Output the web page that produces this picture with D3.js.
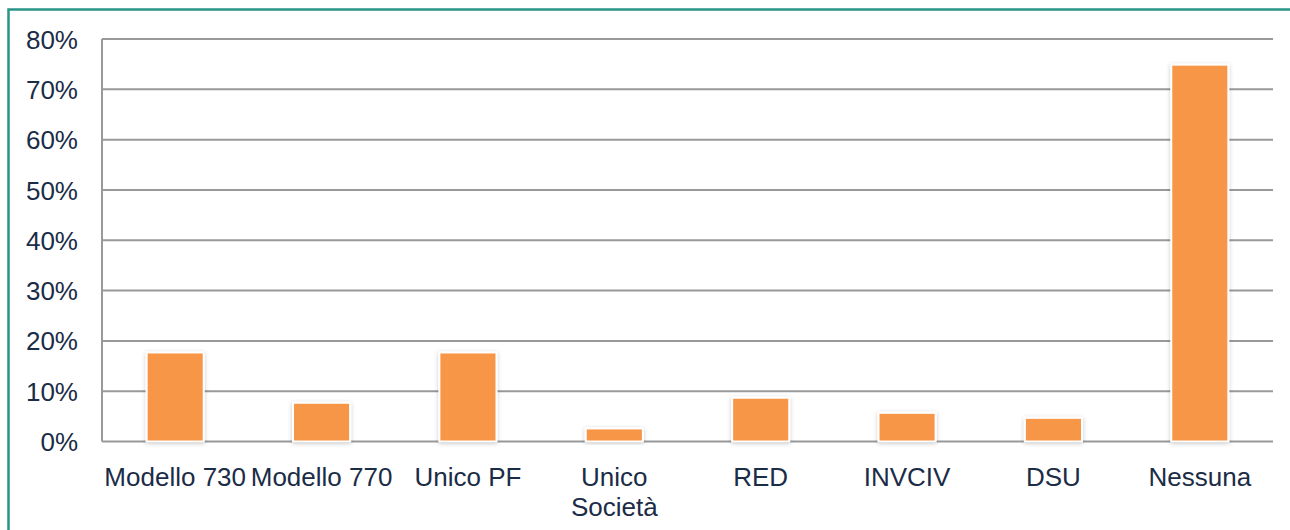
<!DOCTYPE html>
<html>
<head>
<meta charset="utf-8">
<script src="https://cdn.jsdelivr.net/npm/d3@7"></script>
<style>
  html, body { margin: 0; padding: 0; background: #fff; }
  svg { display: block; }
  text { font-family: "Liberation Sans", Arial, sans-serif; fill: #1b2c47; }
</style>
</head>
<body>
<svg id="chart" width="1290" height="530"></svg>
<script>
const categories = ["Modello 730", "Modello 770", "Unico PF", "Unico Società", "RED", "INVCIV", "DSU", "Nessuna"];
const categoryLines = [["Modello 730"], ["Modello 770"], ["Unico PF"], ["Unico", "Società"], ["RED"], ["INVCIV"], ["DSU"], ["Nessuna"]];
const values = [0.177, 0.077, 0.177, 0.026, 0.087, 0.057, 0.047, 0.749];
const yTicks = [0, 0.1, 0.2, 0.3, 0.4, 0.5, 0.6, 0.7, 0.8];

const svg = d3.select("#chart");
const W = 1290, H = 530;
const margin = { left: 102, right: 16, top: 39, bottom: 88.5 };
const innerW = 1273 - margin.left;
const innerH = 441.5 - margin.top;

// border (top + left, teal)
svg.append("path")
  .attr("d", `M8.5,${H} L8.5,9.5 L${W},9.5`)
  .attr("fill", "none").attr("stroke", "#2a9488").attr("stroke-width", 2.5);

const defs = svg.append("defs");
const f = defs.append("filter").attr("id", "sh").attr("x", "-20%").attr("y", "-20%").attr("width", "140%").attr("height", "140%");
f.append("feDropShadow").attr("dx", 0).attr("dy", 1).attr("stdDeviation", 2).attr("flood-color", "#000").attr("flood-opacity", 0.22);

const g = svg.append("g").attr("transform", `translate(${margin.left},${margin.top})`);

const x = d3.scaleBand().domain(categories).range([0, innerW]).paddingInner(0.61).paddingOuter(0.305);
const y = d3.scaleLinear().domain([0, 0.8]).range([innerH, 0]);

// gridlines
g.append("g").selectAll("line").data(yTicks).join("line")
  .attr("x1", 0).attr("x2", innerW)
  .attr("y1", d => y(d)).attr("y2", d => y(d))
  .attr("stroke", "#999").attr("stroke-width", 2);

// y axis line
g.append("line").attr("x1", 0).attr("x2", 0).attr("y1", 0).attr("y2", innerH)
  .attr("stroke", "#999").attr("stroke-width", 2);

// y tick labels
const yAxis = d3.axisLeft(y).tickValues(yTicks).tickFormat(d3.format(".0%")).tickSize(0).tickPadding(24);
const ya = g.append("g").call(yAxis);
ya.select(".domain").remove();
ya.selectAll("text").attr("font-size", 26).attr("fill", "#1b2c47").attr("font-family", "Liberation Sans, Arial, sans-serif").attr("dy", "0.35em");

// bars
g.append("g").selectAll("rect").data(values).join("rect")
  .attr("x", (d, i) => x(categories[i]))
  .attr("width", x.bandwidth())
  .attr("y", d => y(d))
  .attr("height", d => innerH - y(d))
  .attr("fill", "#f79646")
  .attr("stroke", "#fff").attr("stroke-width", 2)
  .attr("filter", "url(#sh)");

// x labels
const xl = g.append("g").selectAll("text").data(categoryLines).join("text")
  .attr("text-anchor", "middle")
  .attr("font-size", 26)
  .attr("x", (d, i) => x(categories[i]) + x.bandwidth() / 2)
  .attr("y", innerH + 44);
xl.selectAll("tspan").data(d => d).join("tspan")
  .attr("x", function() { return d3.select(this.parentNode).attr("x"); })
  .attr("dy", (d, i) => i === 0 ? 0 : 30.5)
  .text(d => d);
</script>
</body>
</html>
